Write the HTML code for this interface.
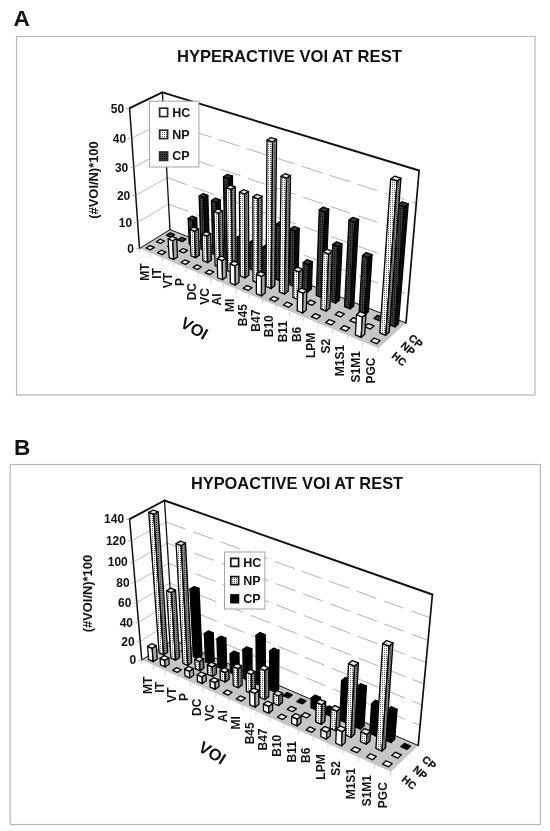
<!DOCTYPE html>
<html><head><meta charset="utf-8"><title>VOI charts</title>
<style>
html,body{margin:0;padding:0;background:#fff;}
body{width:550px;height:831px;overflow:hidden;font-family:"Liberation Sans",sans-serif;}
svg{display:block;}
text{font-family:"Liberation Sans",sans-serif;font-weight:bold;fill:#111;}
.yl{font-size:12px;}
.cl{font-size:12px;}
.ttl{font-size:16.5px;}
.pl{font-size:22.6px;}
.lg{font-size:12.5px;}
.sl{font-size:10.5px;stroke:#111;stroke-width:0.25px;}
.voi{font-size:16.5px;}
.yt{font-size:12.9px;}
</style></head><body>
<svg width="550" height="831" viewBox="0 0 550 831" style="filter:blur(0.6px)">
<defs>
<pattern id="np" width="2" height="2" patternUnits="userSpaceOnUse"><rect width="2" height="2" fill="#fff"/><rect width="1" height="1" fill="#666"/></pattern>
<pattern id="npd" width="2" height="2" patternUnits="userSpaceOnUse"><rect width="2" height="2" fill="#8a8a8a"/><rect width="1" height="1" fill="#3a3a3a"/></pattern>
<pattern id="cpa" width="2" height="2" patternUnits="userSpaceOnUse"><rect width="2" height="2" fill="#3c3c3c"/><rect width="1" height="1" fill="#0a0a0a"/></pattern>
</defs>
<rect width="550" height="831" fill="#fff"/>
<text x="13.6" y="26.4" class="pl">A</text>
<rect x="16.5" y="36.5" width="518.5" height="358.5" fill="#fff" stroke="#b8b8b8" stroke-width="1.2"/>
<text x="289.4" y="62" text-anchor="middle" class="ttl" style="font-size:16.6px">HYPERACTIVE VOI AT REST</text>
<polygon points="139.50,248.50 170.00,229.60 162.40,92.40 129.60,108.20" fill="#fff"/>
<polygon points="170.00,229.60 406.00,323.00 419.10,170.50 162.40,92.40" fill="#fff"/>
<line x1="137.66" y1="222.38" x2="168.59" y2="204.06" stroke="#b4b4b4" stroke-width="0.9"/>
<line x1="168.59" y1="204.06" x2="408.44" y2="294.61" stroke="#aaa" stroke-width="0.9" stroke-dasharray="21 8" stroke-dashoffset="0"/>
<line x1="135.75" y1="195.34" x2="167.12" y2="177.62" stroke="#b4b4b4" stroke-width="0.9"/>
<line x1="167.12" y1="177.62" x2="410.96" y2="265.22" stroke="#aaa" stroke-width="0.9" stroke-dasharray="21 8" stroke-dashoffset="0"/>
<line x1="133.77" y1="167.34" x2="165.60" y2="150.23" stroke="#b4b4b4" stroke-width="0.9"/>
<line x1="165.60" y1="150.23" x2="413.58" y2="234.78" stroke="#aaa" stroke-width="0.9" stroke-dasharray="21 8" stroke-dashoffset="0"/>
<line x1="131.72" y1="138.31" x2="164.03" y2="121.84" stroke="#b4b4b4" stroke-width="0.9"/>
<line x1="164.03" y1="121.84" x2="416.29" y2="203.23" stroke="#aaa" stroke-width="0.9" stroke-dasharray="21 8" stroke-dashoffset="0"/>
<line x1="129.60" y1="108.20" x2="162.40" y2="92.40" stroke="#b4b4b4" stroke-width="0.9"/>
<polygon points="139.50,248.50 378.50,348.30 406.00,323.00 170.00,229.60" fill="#c6c6c6"/>
<line x1="139.50" y1="248.50" x2="170.00" y2="229.60" stroke="#111" stroke-width="1.00" stroke-linecap="round"/>
<line x1="170.00" y1="229.60" x2="406.00" y2="323.00" stroke="#111" stroke-width="1.00" stroke-linecap="round"/>
<line x1="139.50" y1="248.50" x2="129.60" y2="108.20" stroke="#111" stroke-width="1.50" stroke-linecap="round"/>
<line x1="129.60" y1="108.20" x2="162.40" y2="92.40" stroke="#111" stroke-width="1.90" stroke-linecap="round"/>
<line x1="170.00" y1="229.60" x2="162.40" y2="92.40" stroke="#111" stroke-width="1.30" stroke-linecap="round"/>
<line x1="162.40" y1="92.40" x2="419.10" y2="170.50" stroke="#111" stroke-width="1.90" stroke-linecap="round"/>
<line x1="419.10" y1="170.50" x2="406.00" y2="323.00" stroke="#111" stroke-width="1.70" stroke-linecap="round"/>
<line x1="136.00" y1="249.00" x2="139.50" y2="248.50" stroke="#999" stroke-width="0.8"/>
<text x="134.00" y="252.80" text-anchor="end" class="yl">0</text>
<line x1="134.16" y1="222.88" x2="137.66" y2="222.38" stroke="#999" stroke-width="0.8"/>
<text x="132.16" y="226.68" text-anchor="end" class="yl">10</text>
<line x1="132.25" y1="195.84" x2="135.75" y2="195.34" stroke="#999" stroke-width="0.8"/>
<text x="130.25" y="199.64" text-anchor="end" class="yl">20</text>
<line x1="130.27" y1="167.84" x2="133.77" y2="167.34" stroke="#999" stroke-width="0.8"/>
<text x="128.27" y="171.64" text-anchor="end" class="yl">30</text>
<line x1="128.22" y1="138.81" x2="131.72" y2="138.31" stroke="#999" stroke-width="0.8"/>
<text x="126.22" y="142.61" text-anchor="end" class="yl">40</text>
<line x1="126.10" y1="108.70" x2="129.60" y2="108.20" stroke="#999" stroke-width="0.8"/>
<text x="124.10" y="112.50" text-anchor="end" class="yl">50</text>
<line x1="139.50" y1="248.50" x2="139.00" y2="252.50" stroke="#bbb" stroke-width="0.7"/>
<line x1="150.88" y1="253.25" x2="150.38" y2="257.25" stroke="#bbb" stroke-width="0.7"/>
<line x1="162.45" y1="258.09" x2="161.95" y2="262.09" stroke="#bbb" stroke-width="0.7"/>
<line x1="174.23" y1="263.00" x2="173.73" y2="267.00" stroke="#bbb" stroke-width="0.7"/>
<line x1="186.20" y1="268.00" x2="185.70" y2="272.00" stroke="#bbb" stroke-width="0.7"/>
<line x1="198.38" y1="273.09" x2="197.88" y2="277.09" stroke="#bbb" stroke-width="0.7"/>
<line x1="210.78" y1="278.26" x2="210.28" y2="282.26" stroke="#bbb" stroke-width="0.7"/>
<line x1="223.40" y1="283.53" x2="222.90" y2="287.53" stroke="#bbb" stroke-width="0.7"/>
<line x1="236.24" y1="288.90" x2="235.74" y2="292.90" stroke="#bbb" stroke-width="0.7"/>
<line x1="249.31" y1="294.35" x2="248.81" y2="298.35" stroke="#bbb" stroke-width="0.7"/>
<line x1="262.62" y1="299.91" x2="262.12" y2="303.91" stroke="#bbb" stroke-width="0.7"/>
<line x1="276.18" y1="305.57" x2="275.68" y2="309.57" stroke="#bbb" stroke-width="0.7"/>
<line x1="289.98" y1="311.34" x2="289.48" y2="315.34" stroke="#bbb" stroke-width="0.7"/>
<line x1="304.05" y1="317.21" x2="303.55" y2="321.21" stroke="#bbb" stroke-width="0.7"/>
<line x1="318.37" y1="323.19" x2="317.87" y2="327.19" stroke="#bbb" stroke-width="0.7"/>
<line x1="332.98" y1="329.29" x2="332.48" y2="333.29" stroke="#bbb" stroke-width="0.7"/>
<line x1="347.86" y1="335.51" x2="347.36" y2="339.51" stroke="#bbb" stroke-width="0.7"/>
<line x1="363.03" y1="341.84" x2="362.53" y2="345.84" stroke="#bbb" stroke-width="0.7"/>
<line x1="378.50" y1="348.30" x2="378.00" y2="352.30" stroke="#bbb" stroke-width="0.7"/>
<polygon points="166.41,235.34 170.74,237.08 174.65,234.63 170.31,232.91" fill="#3a3a3a" stroke="#000" stroke-width="1.30" stroke-linejoin="round"/>
<polygon points="177.73,239.89 182.15,241.65 186.03,239.16 181.62,237.41" fill="#3a3a3a" stroke="#000" stroke-width="1.30" stroke-linejoin="round"/>
<polygon points="189.26,244.50 193.74,246.30 192.73,220.25 188.17,218.51" fill="url(#cpa)" stroke="#000" stroke-width="1.30" stroke-linejoin="round"/>
<polygon points="193.74,246.30 197.61,243.77 196.65,217.80 192.73,220.25" fill="#0c0c0c" stroke="#000" stroke-width="1.30" stroke-linejoin="round"/>
<polygon points="188.17,218.51 192.73,220.25 196.65,217.80 192.10,216.07" fill="#3a3a3a" stroke="#000" stroke-width="1.30" stroke-linejoin="round"/>
<polygon points="200.98,249.20 205.54,251.03 203.87,197.72 199.15,196.01" fill="url(#cpa)" stroke="#000" stroke-width="1.30" stroke-linejoin="round"/>
<polygon points="205.54,251.03 209.39,248.46 207.83,195.31 203.87,197.72" fill="#0c0c0c" stroke="#000" stroke-width="1.30" stroke-linejoin="round"/>
<polygon points="199.15,196.01 203.87,197.72 207.83,195.31 203.12,193.61" fill="#3a3a3a" stroke="#000" stroke-width="1.30" stroke-linejoin="round"/>
<polygon points="212.90,253.98 217.54,255.84 216.27,202.24 211.47,200.49" fill="url(#cpa)" stroke="#000" stroke-width="1.30" stroke-linejoin="round"/>
<polygon points="217.54,255.84 221.37,253.23 220.21,199.78 216.27,202.24" fill="#0c0c0c" stroke="#000" stroke-width="1.30" stroke-linejoin="round"/>
<polygon points="211.47,200.49 216.27,202.24 220.21,199.78 215.42,198.05" fill="#3a3a3a" stroke="#000" stroke-width="1.30" stroke-linejoin="round"/>
<polygon points="225.03,258.84 229.75,260.74 228.43,178.43 223.46,176.71" fill="url(#cpa)" stroke="#000" stroke-width="1.30" stroke-linejoin="round"/>
<polygon points="229.75,260.74 233.56,258.08 232.41,176.02 228.43,178.43" fill="#0c0c0c" stroke="#000" stroke-width="1.30" stroke-linejoin="round"/>
<polygon points="223.46,176.71 228.43,178.43 232.41,176.02 227.45,174.31" fill="#3a3a3a" stroke="#000" stroke-width="1.30" stroke-linejoin="round"/>
<polygon points="237.37,263.79 242.18,265.72 241.96,239.08 237.07,237.21" fill="url(#cpa)" stroke="#000" stroke-width="1.30" stroke-linejoin="round"/>
<polygon points="242.18,265.72 245.97,263.02 245.80,236.46 241.96,239.08" fill="#0c0c0c" stroke="#000" stroke-width="1.30" stroke-linejoin="round"/>
<polygon points="237.07,237.21 241.96,239.08 245.80,236.46 240.92,234.61" fill="#3a3a3a" stroke="#000" stroke-width="1.30" stroke-linejoin="round"/>
<polygon points="249.93,268.83 254.83,270.79 254.81,244.00 249.84,242.09" fill="url(#cpa)" stroke="#000" stroke-width="1.30" stroke-linejoin="round"/>
<polygon points="254.83,270.79 258.59,268.04 258.63,241.33 254.81,244.00" fill="#0c0c0c" stroke="#000" stroke-width="1.30" stroke-linejoin="round"/>
<polygon points="249.84,242.09 254.81,244.00 258.63,241.33 253.66,239.45" fill="#3a3a3a" stroke="#000" stroke-width="1.30" stroke-linejoin="round"/>
<polygon points="262.72,273.95 267.70,275.95 267.90,249.00 262.83,247.06" fill="url(#cpa)" stroke="#000" stroke-width="1.30" stroke-linejoin="round"/>
<polygon points="267.70,275.95 271.45,273.16 271.69,246.29 267.90,249.00" fill="#0c0c0c" stroke="#000" stroke-width="1.30" stroke-linejoin="round"/>
<polygon points="262.83,247.06 267.90,249.00 271.69,246.29 266.64,244.37" fill="#3a3a3a" stroke="#000" stroke-width="1.30" stroke-linejoin="round"/>
<polygon points="275.74,279.17 280.81,281.20 281.64,226.03 276.39,224.12" fill="url(#cpa)" stroke="#000" stroke-width="1.30" stroke-linejoin="round"/>
<polygon points="280.81,281.20 284.54,278.37 285.47,223.37 281.64,226.03" fill="#0c0c0c" stroke="#000" stroke-width="1.30" stroke-linejoin="round"/>
<polygon points="276.39,224.12 281.64,226.03 285.47,223.37 280.24,221.47" fill="#3a3a3a" stroke="#000" stroke-width="1.30" stroke-linejoin="round"/>
<polygon points="288.99,284.48 294.16,286.55 295.43,231.05 290.09,229.11" fill="url(#cpa)" stroke="#000" stroke-width="1.30" stroke-linejoin="round"/>
<polygon points="294.16,286.55 297.86,283.67 299.24,228.34 295.43,231.05" fill="#0c0c0c" stroke="#000" stroke-width="1.30" stroke-linejoin="round"/>
<polygon points="290.09,229.11 295.43,231.05 299.24,228.34 293.91,226.42" fill="#3a3a3a" stroke="#000" stroke-width="1.30" stroke-linejoin="round"/>
<polygon points="302.49,289.89 307.76,292.00 308.60,264.57 303.25,262.52" fill="url(#cpa)" stroke="#000" stroke-width="1.30" stroke-linejoin="round"/>
<polygon points="307.76,292.00 311.44,289.08 312.33,261.72 308.60,264.57" fill="#0c0c0c" stroke="#000" stroke-width="1.30" stroke-linejoin="round"/>
<polygon points="303.25,262.52 308.60,264.57 312.33,261.72 306.99,259.70" fill="#3a3a3a" stroke="#000" stroke-width="1.30" stroke-linejoin="round"/>
<polygon points="316.24,295.41 321.61,297.56 324.93,211.77 319.29,209.83" fill="url(#cpa)" stroke="#000" stroke-width="1.30" stroke-linejoin="round"/>
<polygon points="321.61,297.56 325.26,294.58 328.76,209.06 324.93,211.77" fill="#0c0c0c" stroke="#000" stroke-width="1.30" stroke-linejoin="round"/>
<polygon points="319.29,209.83 324.93,211.77 328.76,209.06 323.13,207.13" fill="#3a3a3a" stroke="#000" stroke-width="1.30" stroke-linejoin="round"/>
<polygon points="330.25,301.02 335.71,303.21 338.36,246.68 332.71,244.62" fill="url(#cpa)" stroke="#000" stroke-width="1.30" stroke-linejoin="round"/>
<polygon points="335.71,303.21 339.35,300.19 342.10,243.83 338.36,246.68" fill="#0c0c0c" stroke="#000" stroke-width="1.30" stroke-linejoin="round"/>
<polygon points="332.71,244.62 338.36,246.68 342.10,243.83 336.47,241.79" fill="#3a3a3a" stroke="#000" stroke-width="1.30" stroke-linejoin="round"/>
<polygon points="344.52,306.74 350.09,308.97 354.86,222.11 349.01,220.09" fill="url(#cpa)" stroke="#000" stroke-width="1.30" stroke-linejoin="round"/>
<polygon points="350.09,308.97 353.70,305.90 358.64,219.31 354.86,222.11" fill="#0c0c0c" stroke="#000" stroke-width="1.30" stroke-linejoin="round"/>
<polygon points="349.01,220.09 354.86,222.11 358.64,219.31 352.80,217.31" fill="#3a3a3a" stroke="#000" stroke-width="1.30" stroke-linejoin="round"/>
<polygon points="359.07,312.57 364.74,314.85 368.35,257.60 362.49,255.46" fill="url(#cpa)" stroke="#000" stroke-width="1.30" stroke-linejoin="round"/>
<polygon points="364.74,314.85 368.33,311.72 372.05,254.65 368.35,257.60" fill="#0c0c0c" stroke="#000" stroke-width="1.30" stroke-linejoin="round"/>
<polygon points="362.49,255.46 368.35,257.60 372.05,254.65 366.19,252.54" fill="#3a3a3a" stroke="#000" stroke-width="1.30" stroke-linejoin="round"/>
<polygon points="373.90,318.52 379.68,320.83 383.24,317.66 377.47,315.36" fill="#3a3a3a" stroke="#000" stroke-width="1.30" stroke-linejoin="round"/>
<polygon points="389.01,324.57 394.91,326.94 404.46,206.71 398.15,204.65" fill="url(#cpa)" stroke="#000" stroke-width="1.30" stroke-linejoin="round"/>
<polygon points="394.91,326.94 398.45,323.71 408.22,203.87 404.46,206.71" fill="#0c0c0c" stroke="#000" stroke-width="1.30" stroke-linejoin="round"/>
<polygon points="398.15,204.65 404.46,206.71 408.22,203.87 401.93,201.82" fill="#3a3a3a" stroke="#000" stroke-width="1.30" stroke-linejoin="round"/>
<polygon points="156.25,241.68 160.61,243.45 164.51,241.00 160.16,239.24" fill="#e4e4e4" stroke="#000" stroke-width="1.30" stroke-linejoin="round"/>
<polygon points="167.63,246.32 172.06,248.13 175.94,245.64 171.52,243.84" fill="#e4e4e4" stroke="#000" stroke-width="1.30" stroke-linejoin="round"/>
<polygon points="179.20,251.04 183.71,252.88 187.57,250.35 183.07,248.52" fill="#e4e4e4" stroke="#000" stroke-width="1.30" stroke-linejoin="round"/>
<polygon points="190.97,255.84 195.55,257.72 194.59,231.32 189.93,229.51" fill="url(#np)" stroke="#000" stroke-width="1.30" stroke-linejoin="round"/>
<polygon points="195.55,257.72 199.40,255.14 198.49,228.83 194.59,231.32" fill="url(#npd)" stroke="#000" stroke-width="1.30" stroke-linejoin="round"/>
<polygon points="189.93,229.51 194.59,231.32 198.49,228.83 193.84,227.03" fill="#e4e4e4" stroke="#000" stroke-width="1.30" stroke-linejoin="round"/>
<polygon points="202.94,260.73 207.61,262.63 206.84,236.09 202.10,234.25" fill="url(#np)" stroke="#000" stroke-width="1.30" stroke-linejoin="round"/>
<polygon points="207.61,262.63 211.43,260.02 210.72,233.56 206.84,236.09" fill="url(#npd)" stroke="#000" stroke-width="1.30" stroke-linejoin="round"/>
<polygon points="202.10,234.25 206.84,236.09 210.72,233.56 205.99,231.72" fill="#e4e4e4" stroke="#000" stroke-width="1.30" stroke-linejoin="round"/>
<polygon points="215.12,265.70 219.87,267.64 218.71,213.31 213.81,211.50" fill="url(#np)" stroke="#000" stroke-width="1.30" stroke-linejoin="round"/>
<polygon points="219.87,267.64 223.68,264.98 222.63,210.82 218.71,213.31" fill="url(#npd)" stroke="#000" stroke-width="1.30" stroke-linejoin="round"/>
<polygon points="213.81,211.50 218.71,213.31 222.63,210.82 217.73,209.01" fill="#e4e4e4" stroke="#000" stroke-width="1.30" stroke-linejoin="round"/>
<polygon points="227.52,270.76 232.35,272.73 231.21,189.31 226.14,187.52" fill="url(#np)" stroke="#000" stroke-width="1.30" stroke-linejoin="round"/>
<polygon points="232.35,272.73 236.13,270.03 235.17,186.85 231.21,189.31" fill="url(#npd)" stroke="#000" stroke-width="1.30" stroke-linejoin="round"/>
<polygon points="226.14,187.52 231.21,189.31 235.17,186.85 230.10,185.08" fill="#e4e4e4" stroke="#000" stroke-width="1.30" stroke-linejoin="round"/>
<polygon points="240.13,275.91 245.05,277.92 244.55,194.00 239.39,192.19" fill="url(#np)" stroke="#000" stroke-width="1.30" stroke-linejoin="round"/>
<polygon points="245.05,277.92 248.82,275.17 248.49,191.51 244.55,194.00" fill="url(#npd)" stroke="#000" stroke-width="1.30" stroke-linejoin="round"/>
<polygon points="239.39,192.19 244.55,194.00 248.49,191.51 243.33,189.71" fill="#e4e4e4" stroke="#000" stroke-width="1.30" stroke-linejoin="round"/>
<polygon points="252.97,281.15 257.98,283.19 258.13,198.79 252.87,196.94" fill="url(#np)" stroke="#000" stroke-width="1.30" stroke-linejoin="round"/>
<polygon points="257.98,283.19 261.72,280.40 262.05,196.25 258.13,198.79" fill="url(#npd)" stroke="#000" stroke-width="1.30" stroke-linejoin="round"/>
<polygon points="252.87,196.94 258.13,198.79 262.05,196.25 256.80,194.42" fill="#e4e4e4" stroke="#000" stroke-width="1.30" stroke-linejoin="round"/>
<polygon points="266.05,286.49 271.14,288.57 272.55,141.79 267.01,140.05" fill="url(#np)" stroke="#000" stroke-width="1.30" stroke-linejoin="round"/>
<polygon points="271.14,288.57 274.87,285.73 276.57,139.40 272.55,141.79" fill="url(#npd)" stroke="#000" stroke-width="1.30" stroke-linejoin="round"/>
<polygon points="267.01,140.05 272.55,141.79 276.57,139.40 271.04,137.67" fill="#e4e4e4" stroke="#000" stroke-width="1.30" stroke-linejoin="round"/>
<polygon points="279.36,291.92 284.55,294.04 286.57,178.06 281.03,176.21" fill="url(#np)" stroke="#000" stroke-width="1.30" stroke-linejoin="round"/>
<polygon points="284.55,294.04 288.25,291.16 290.51,175.54 286.57,178.06" fill="url(#npd)" stroke="#000" stroke-width="1.30" stroke-linejoin="round"/>
<polygon points="281.03,176.21 286.57,178.06 290.51,175.54 284.97,173.70" fill="#e4e4e4" stroke="#000" stroke-width="1.30" stroke-linejoin="round"/>
<polygon points="292.92,297.45 298.20,299.61 298.90,271.95 293.53,269.86" fill="url(#np)" stroke="#000" stroke-width="1.30" stroke-linejoin="round"/>
<polygon points="298.20,299.61 301.88,296.68 302.64,269.11 298.90,271.95" fill="url(#npd)" stroke="#000" stroke-width="1.30" stroke-linejoin="round"/>
<polygon points="293.53,269.86 298.90,271.95 302.64,269.11 297.27,267.03" fill="#e4e4e4" stroke="#000" stroke-width="1.30" stroke-linejoin="round"/>
<polygon points="306.72,303.09 312.11,305.29 315.77,302.31 310.39,300.13" fill="#e4e4e4" stroke="#000" stroke-width="1.30" stroke-linejoin="round"/>
<polygon points="320.79,308.83 326.28,311.07 328.63,254.08 322.96,251.97" fill="url(#np)" stroke="#000" stroke-width="1.30" stroke-linejoin="round"/>
<polygon points="326.28,311.07 329.91,308.04 332.38,251.23 328.63,254.08" fill="url(#npd)" stroke="#000" stroke-width="1.30" stroke-linejoin="round"/>
<polygon points="322.96,251.97 328.63,254.08 332.38,251.23 326.72,249.14" fill="#e4e4e4" stroke="#000" stroke-width="1.30" stroke-linejoin="round"/>
<polygon points="335.12,314.68 340.72,316.96 344.33,313.89 338.74,311.62" fill="#e4e4e4" stroke="#000" stroke-width="1.30" stroke-linejoin="round"/>
<polygon points="349.73,320.64 355.43,322.97 359.02,319.84 353.33,317.53" fill="#e4e4e4" stroke="#000" stroke-width="1.30" stroke-linejoin="round"/>
<polygon points="364.62,326.72 370.43,329.09 373.99,325.91 368.19,323.56" fill="#e4e4e4" stroke="#000" stroke-width="1.30" stroke-linejoin="round"/>
<polygon points="379.80,332.91 385.72,335.33 397.11,180.98 390.67,178.95" fill="url(#np)" stroke="#000" stroke-width="1.30" stroke-linejoin="round"/>
<polygon points="385.72,335.33 389.26,332.10 400.94,178.24 397.11,180.98" fill="url(#npd)" stroke="#000" stroke-width="1.30" stroke-linejoin="round"/>
<polygon points="390.67,178.95 397.11,180.98 400.94,178.24 394.51,176.23" fill="#e4e4e4" stroke="#000" stroke-width="1.30" stroke-linejoin="round"/>
<polygon points="146.10,248.01 150.48,249.82 154.38,247.37 150.01,245.57" fill="#f4f4f4" stroke="#000" stroke-width="1.30" stroke-linejoin="round"/>
<polygon points="157.53,252.75 161.98,254.60 165.86,252.11 161.42,250.27" fill="#f4f4f4" stroke="#000" stroke-width="1.30" stroke-linejoin="round"/>
<polygon points="169.15,257.58 173.67,259.46 172.75,240.77 168.18,238.93" fill="#fff" stroke="#000" stroke-width="1.30" stroke-linejoin="round"/>
<polygon points="173.67,259.46 177.54,256.93 176.66,238.30 172.75,240.77" fill="#a8a8a8" stroke="#000" stroke-width="1.30" stroke-linejoin="round"/>
<polygon points="168.18,238.93 172.75,240.77 176.66,238.30 172.09,236.47" fill="#f4f4f4" stroke="#000" stroke-width="1.30" stroke-linejoin="round"/>
<polygon points="180.96,262.49 185.57,264.40 189.41,261.83 184.82,259.93" fill="#f4f4f4" stroke="#000" stroke-width="1.30" stroke-linejoin="round"/>
<polygon points="192.99,267.48 197.67,269.43 201.50,266.81 196.82,264.88" fill="#f4f4f4" stroke="#000" stroke-width="1.30" stroke-linejoin="round"/>
<polygon points="205.22,272.56 209.99,274.54 213.79,271.88 209.03,269.92" fill="#f4f4f4" stroke="#000" stroke-width="1.30" stroke-linejoin="round"/>
<polygon points="217.67,277.73 222.52,279.75 222.16,260.63 217.25,258.66" fill="#fff" stroke="#000" stroke-width="1.30" stroke-linejoin="round"/>
<polygon points="222.52,279.75 226.30,277.05 225.98,257.99 222.16,260.63" fill="#a8a8a8" stroke="#000" stroke-width="1.30" stroke-linejoin="round"/>
<polygon points="217.25,258.66 222.16,260.63 225.98,257.99 221.08,256.03" fill="#f4f4f4" stroke="#000" stroke-width="1.30" stroke-linejoin="round"/>
<polygon points="230.33,282.99 235.27,285.04 235.06,265.82 230.06,263.81" fill="#fff" stroke="#000" stroke-width="1.30" stroke-linejoin="round"/>
<polygon points="235.27,285.04 239.04,282.30 238.86,263.13 235.06,265.82" fill="#a8a8a8" stroke="#000" stroke-width="1.30" stroke-linejoin="round"/>
<polygon points="230.06,263.81 235.06,265.82 238.86,263.13 233.88,261.14" fill="#f4f4f4" stroke="#000" stroke-width="1.30" stroke-linejoin="round"/>
<polygon points="243.23,288.35 248.26,290.44 252.00,287.65 246.98,285.58" fill="#f4f4f4" stroke="#000" stroke-width="1.30" stroke-linejoin="round"/>
<polygon points="256.36,293.80 261.48,295.93 261.56,276.47 256.38,274.39" fill="#fff" stroke="#000" stroke-width="1.30" stroke-linejoin="round"/>
<polygon points="261.48,295.93 265.20,293.09 265.32,273.70 261.56,276.47" fill="#a8a8a8" stroke="#000" stroke-width="1.30" stroke-linejoin="round"/>
<polygon points="256.38,274.39 261.56,276.47 265.32,273.70 260.15,271.63" fill="#f4f4f4" stroke="#000" stroke-width="1.30" stroke-linejoin="round"/>
<polygon points="269.73,299.36 274.94,301.52 278.64,298.64 273.43,296.49" fill="#f4f4f4" stroke="#000" stroke-width="1.30" stroke-linejoin="round"/>
<polygon points="283.34,305.01 288.65,307.21 292.33,304.29 287.03,302.10" fill="#f4f4f4" stroke="#000" stroke-width="1.30" stroke-linejoin="round"/>
<polygon points="297.21,310.77 302.61,313.02 303.17,293.20 297.70,291.00" fill="#fff" stroke="#000" stroke-width="1.30" stroke-linejoin="round"/>
<polygon points="302.61,313.02 306.27,310.04 306.86,290.28 303.17,293.20" fill="#a8a8a8" stroke="#000" stroke-width="1.30" stroke-linejoin="round"/>
<polygon points="297.70,291.00 303.17,293.20 306.86,290.28 301.40,288.10" fill="#f4f4f4" stroke="#000" stroke-width="1.30" stroke-linejoin="round"/>
<polygon points="311.33,316.64 316.84,318.93 320.47,315.90 314.97,313.63" fill="#f4f4f4" stroke="#000" stroke-width="1.30" stroke-linejoin="round"/>
<polygon points="325.73,322.62 331.34,324.95 334.95,321.87 329.34,319.56" fill="#f4f4f4" stroke="#000" stroke-width="1.30" stroke-linejoin="round"/>
<polygon points="340.39,328.71 346.12,331.08 349.70,327.96 343.99,325.60" fill="#f4f4f4" stroke="#000" stroke-width="1.30" stroke-linejoin="round"/>
<polygon points="355.35,334.92 361.18,337.34 362.40,317.01 356.50,314.64" fill="#fff" stroke="#000" stroke-width="1.30" stroke-linejoin="round"/>
<polygon points="361.18,337.34 364.74,334.16 366.00,313.90 362.40,317.01" fill="#a8a8a8" stroke="#000" stroke-width="1.30" stroke-linejoin="round"/>
<polygon points="356.50,314.64 362.40,317.01 366.00,313.90 360.11,311.54" fill="#f4f4f4" stroke="#000" stroke-width="1.30" stroke-linejoin="round"/>
<polygon points="370.59,341.25 376.54,343.72 380.07,340.49 374.13,338.04" fill="#f4f4f4" stroke="#000" stroke-width="1.30" stroke-linejoin="round"/>
<text transform="translate(145.17 263.37) rotate(-90)" text-anchor="end" class="cl" dy="4.1">MT</text>
<text transform="translate(156.64 268.16) rotate(-90)" text-anchor="end" class="cl" dy="4.1">IT</text>
<text transform="translate(168.32 273.03) rotate(-90)" text-anchor="end" class="cl" dy="4.1">VT</text>
<text transform="translate(180.19 277.99) rotate(-90)" text-anchor="end" class="cl" dy="4.1">P</text>
<text transform="translate(192.27 283.03) rotate(-90)" text-anchor="end" class="cl" dy="4.1">DC</text>
<text transform="translate(204.56 288.17) rotate(-90)" text-anchor="end" class="cl" dy="4.1">VC</text>
<text transform="translate(217.06 293.39) rotate(-90)" text-anchor="end" class="cl" dy="4.1">AI</text>
<text transform="translate(229.79 298.70) rotate(-90)" text-anchor="end" class="cl" dy="4.1">MI</text>
<text transform="translate(242.75 304.11) rotate(-90)" text-anchor="end" class="cl" dy="4.1">B45</text>
<text transform="translate(255.94 309.62) rotate(-90)" text-anchor="end" class="cl" dy="4.1">B47</text>
<text transform="translate(269.37 315.23) rotate(-90)" text-anchor="end" class="cl" dy="4.1">B10</text>
<text transform="translate(283.05 320.94) rotate(-90)" text-anchor="end" class="cl" dy="4.1">B11</text>
<text transform="translate(296.98 326.76) rotate(-90)" text-anchor="end" class="cl" dy="4.1">B6</text>
<text transform="translate(311.18 332.69) rotate(-90)" text-anchor="end" class="cl" dy="4.1">LPM</text>
<text transform="translate(325.64 338.73) rotate(-90)" text-anchor="end" class="cl" dy="4.1">S2</text>
<text transform="translate(340.38 344.88) rotate(-90)" text-anchor="end" class="cl" dy="4.1">M1S1</text>
<text transform="translate(355.41 351.16) rotate(-90)" text-anchor="end" class="cl" dy="4.1">S1M1</text>
<text transform="translate(370.73 357.55) rotate(-90)" text-anchor="end" class="cl" dy="4.1">PGC</text>
<!-- legend A -->
<rect x="149.5" y="101.2" width="49.4" height="65.8" fill="#fff" stroke="#999" stroke-width="0.9"/>
<rect x="159.6" y="108.2" width="8" height="8.4" fill="#fff" stroke="#2a2a2a" stroke-width="1.7"/>
<text x="172.3" y="116.9" class="lg">HC</text>
<rect x="159.6" y="130.2" width="8" height="8.4" fill="url(#np)" stroke="#2a2a2a" stroke-width="1.7"/>
<text x="172.3" y="138.7" class="lg">NP</text>
<rect x="159.6" y="152" width="8" height="8.4" fill="url(#cpa)" stroke="#2a2a2a" stroke-width="1.7"/>
<text x="172.3" y="160.4" class="lg">CP</text>
<text transform="translate(98 180) rotate(-90)" text-anchor="middle" class="yt">(#VOI/N)*100</text>
<text transform="translate(194.2 328.5) rotate(30)" text-anchor="middle" class="voi" dy="5.5">VOI</text>
<text transform="translate(399 359.3) rotate(41)" text-anchor="middle" class="sl" dy="3.3">HC</text>
<text transform="translate(407.7 348.9) rotate(41)" text-anchor="middle" class="sl" dy="3.3">NP</text>
<text transform="translate(415.4 341.3) rotate(41)" text-anchor="middle" class="sl" dy="3.3">CP</text>

<text x="14.0" y="454.8" class="pl">B</text>
<rect x="10.2" y="464.5" width="530.2" height="360" fill="#fff" stroke="#b8b8b8" stroke-width="1.2"/>
<text x="297" y="488.7" text-anchor="middle" class="ttl" style="font-size:16.4px">HYPOACTIVE VOI AT REST</text>
<polygon points="141.80,660.00 173.30,640.00 164.50,500.50 129.60,519.10" fill="#fff"/>
<polygon points="173.30,640.00 418.20,745.50 432.40,594.50 164.50,500.50" fill="#fff"/>
<line x1="140.19" y1="641.36" x2="172.14" y2="621.54" stroke="#b4b4b4" stroke-width="0.9"/>
<line x1="172.14" y1="621.54" x2="420.08" y2="725.52" stroke="#aaa" stroke-width="0.9" stroke-dasharray="21 8" stroke-dashoffset="0"/>
<line x1="138.53" y1="622.25" x2="170.94" y2="602.62" stroke="#b4b4b4" stroke-width="0.9"/>
<line x1="170.94" y1="602.62" x2="422.00" y2="705.04" stroke="#aaa" stroke-width="0.9" stroke-dasharray="21 8" stroke-dashoffset="0"/>
<line x1="136.83" y1="602.66" x2="169.72" y2="583.23" stroke="#b4b4b4" stroke-width="0.9"/>
<line x1="169.72" y1="583.23" x2="423.98" y2="684.05" stroke="#aaa" stroke-width="0.9" stroke-dasharray="21 8" stroke-dashoffset="0"/>
<line x1="135.10" y1="582.57" x2="168.46" y2="563.34" stroke="#b4b4b4" stroke-width="0.9"/>
<line x1="168.46" y1="563.34" x2="426.00" y2="662.52" stroke="#aaa" stroke-width="0.9" stroke-dasharray="21 8" stroke-dashoffset="0"/>
<line x1="133.31" y1="561.96" x2="167.18" y2="542.93" stroke="#b4b4b4" stroke-width="0.9"/>
<line x1="167.18" y1="542.93" x2="428.08" y2="640.43" stroke="#aaa" stroke-width="0.9" stroke-dasharray="21 8" stroke-dashoffset="0"/>
<line x1="131.48" y1="540.81" x2="165.86" y2="521.99" stroke="#b4b4b4" stroke-width="0.9"/>
<line x1="165.86" y1="521.99" x2="430.21" y2="617.77" stroke="#aaa" stroke-width="0.9" stroke-dasharray="21 8" stroke-dashoffset="0"/>
<line x1="129.60" y1="519.10" x2="164.50" y2="500.50" stroke="#b4b4b4" stroke-width="0.9"/>
<polygon points="141.80,660.00 390.90,771.80 418.20,745.50 173.30,640.00" fill="#c6c6c6"/>
<line x1="141.80" y1="660.00" x2="173.30" y2="640.00" stroke="#111" stroke-width="1.00" stroke-linecap="round"/>
<line x1="173.30" y1="640.00" x2="418.20" y2="745.50" stroke="#111" stroke-width="1.00" stroke-linecap="round"/>
<line x1="141.80" y1="660.00" x2="129.60" y2="519.10" stroke="#111" stroke-width="1.50" stroke-linecap="round"/>
<line x1="129.60" y1="519.10" x2="164.50" y2="500.50" stroke="#111" stroke-width="1.90" stroke-linecap="round"/>
<line x1="173.30" y1="640.00" x2="164.50" y2="500.50" stroke="#111" stroke-width="1.30" stroke-linecap="round"/>
<line x1="164.50" y1="500.50" x2="432.40" y2="594.50" stroke="#111" stroke-width="1.90" stroke-linecap="round"/>
<line x1="432.40" y1="594.50" x2="418.20" y2="745.50" stroke="#111" stroke-width="1.70" stroke-linecap="round"/>
<line x1="138.30" y1="660.50" x2="141.80" y2="660.00" stroke="#999" stroke-width="0.8"/>
<text x="136.30" y="664.30" text-anchor="end" class="yl">0</text>
<line x1="136.69" y1="641.86" x2="140.19" y2="641.36" stroke="#999" stroke-width="0.8"/>
<text x="134.69" y="645.66" text-anchor="end" class="yl">20</text>
<line x1="135.03" y1="622.75" x2="138.53" y2="622.25" stroke="#999" stroke-width="0.8"/>
<text x="133.03" y="626.55" text-anchor="end" class="yl">40</text>
<line x1="133.33" y1="603.16" x2="136.83" y2="602.66" stroke="#999" stroke-width="0.8"/>
<text x="131.33" y="606.96" text-anchor="end" class="yl">60</text>
<line x1="131.60" y1="583.07" x2="135.10" y2="582.57" stroke="#999" stroke-width="0.8"/>
<text x="129.60" y="586.87" text-anchor="end" class="yl">80</text>
<line x1="129.81" y1="562.46" x2="133.31" y2="561.96" stroke="#999" stroke-width="0.8"/>
<text x="127.81" y="566.26" text-anchor="end" class="yl">100</text>
<line x1="127.98" y1="541.31" x2="131.48" y2="540.81" stroke="#999" stroke-width="0.8"/>
<text x="125.98" y="545.11" text-anchor="end" class="yl">120</text>
<line x1="126.10" y1="519.60" x2="129.60" y2="519.10" stroke="#999" stroke-width="0.8"/>
<text x="124.10" y="523.40" text-anchor="end" class="yl">140</text>
<line x1="141.80" y1="660.00" x2="141.30" y2="664.00" stroke="#bbb" stroke-width="0.7"/>
<line x1="153.66" y1="665.32" x2="153.16" y2="669.32" stroke="#bbb" stroke-width="0.7"/>
<line x1="165.72" y1="670.74" x2="165.22" y2="674.74" stroke="#bbb" stroke-width="0.7"/>
<line x1="177.99" y1="676.24" x2="177.49" y2="680.24" stroke="#bbb" stroke-width="0.7"/>
<line x1="190.47" y1="681.85" x2="189.97" y2="685.85" stroke="#bbb" stroke-width="0.7"/>
<line x1="203.17" y1="687.54" x2="202.67" y2="691.54" stroke="#bbb" stroke-width="0.7"/>
<line x1="216.09" y1="693.34" x2="215.59" y2="697.34" stroke="#bbb" stroke-width="0.7"/>
<line x1="229.24" y1="699.25" x2="228.74" y2="703.25" stroke="#bbb" stroke-width="0.7"/>
<line x1="242.63" y1="705.25" x2="242.13" y2="709.25" stroke="#bbb" stroke-width="0.7"/>
<line x1="256.25" y1="711.37" x2="255.75" y2="715.37" stroke="#bbb" stroke-width="0.7"/>
<line x1="270.12" y1="717.59" x2="269.62" y2="721.59" stroke="#bbb" stroke-width="0.7"/>
<line x1="284.25" y1="723.93" x2="283.75" y2="727.93" stroke="#bbb" stroke-width="0.7"/>
<line x1="298.64" y1="730.39" x2="298.14" y2="734.39" stroke="#bbb" stroke-width="0.7"/>
<line x1="313.30" y1="736.97" x2="312.80" y2="740.97" stroke="#bbb" stroke-width="0.7"/>
<line x1="328.23" y1="743.67" x2="327.73" y2="747.67" stroke="#bbb" stroke-width="0.7"/>
<line x1="343.45" y1="750.50" x2="342.95" y2="754.50" stroke="#bbb" stroke-width="0.7"/>
<line x1="358.96" y1="757.47" x2="358.46" y2="761.47" stroke="#bbb" stroke-width="0.7"/>
<line x1="374.78" y1="764.56" x2="374.28" y2="768.56" stroke="#bbb" stroke-width="0.7"/>
<line x1="390.90" y1="771.80" x2="390.40" y2="775.80" stroke="#bbb" stroke-width="0.7"/>
<polygon points="169.61,646.17 174.12,648.13 178.14,645.54 173.64,643.60" fill="#000" stroke="#000" stroke-width="1.30" stroke-linejoin="round"/>
<polygon points="181.38,651.29 185.96,653.29 189.96,650.65 185.39,648.68" fill="#000" stroke="#000" stroke-width="1.30" stroke-linejoin="round"/>
<polygon points="193.35,656.50 198.01,658.53 194.86,591.00 189.99,589.08" fill="#000" stroke="#000" stroke-width="1.30" stroke-linejoin="round"/>
<polygon points="198.01,658.53 201.98,655.86 199.04,588.42 194.86,591.00" fill="#000" stroke="#000" stroke-width="1.30" stroke-linejoin="round"/>
<polygon points="189.99,589.08 194.86,591.00 199.04,588.42 194.18,586.51" fill="#000" stroke="#000" stroke-width="1.30" stroke-linejoin="round"/>
<polygon points="205.52,661.80 210.26,663.86 209.17,635.52 204.34,633.50" fill="#000" stroke="#000" stroke-width="1.30" stroke-linejoin="round"/>
<polygon points="210.26,663.86 214.21,661.15 213.21,632.84 209.17,635.52" fill="#000" stroke="#000" stroke-width="1.30" stroke-linejoin="round"/>
<polygon points="204.34,633.50 209.17,635.52 213.21,632.84 208.39,630.84" fill="#000" stroke="#000" stroke-width="1.30" stroke-linejoin="round"/>
<polygon points="217.90,667.18 222.73,669.28 221.87,640.83 216.96,638.77" fill="#000" stroke="#000" stroke-width="1.30" stroke-linejoin="round"/>
<polygon points="222.73,669.28 226.65,666.53 225.88,638.11 221.87,640.83" fill="#000" stroke="#000" stroke-width="1.30" stroke-linejoin="round"/>
<polygon points="216.96,638.77 221.87,640.83 225.88,638.11 220.97,636.07" fill="#000" stroke="#000" stroke-width="1.30" stroke-linejoin="round"/>
<polygon points="230.50,672.66 235.41,674.80 235.00,655.87 230.03,653.76" fill="#000" stroke="#000" stroke-width="1.30" stroke-linejoin="round"/>
<polygon points="235.41,674.80 239.30,672.00 238.95,653.10 235.00,655.87" fill="#000" stroke="#000" stroke-width="1.30" stroke-linejoin="round"/>
<polygon points="230.03,653.76 235.00,655.87 238.95,653.10 233.99,651.01" fill="#000" stroke="#000" stroke-width="1.30" stroke-linejoin="round"/>
<polygon points="243.32,678.24 248.32,680.41 247.94,651.72 242.85,649.59" fill="#000" stroke="#000" stroke-width="1.30" stroke-linejoin="round"/>
<polygon points="248.32,680.41 252.18,677.58 251.89,648.92 247.94,651.72" fill="#000" stroke="#000" stroke-width="1.30" stroke-linejoin="round"/>
<polygon points="242.85,649.59 247.94,651.72 251.89,648.92 246.81,646.81" fill="#000" stroke="#000" stroke-width="1.30" stroke-linejoin="round"/>
<polygon points="256.37,683.92 261.46,686.13 261.24,637.50 255.99,635.36" fill="#000" stroke="#000" stroke-width="1.30" stroke-linejoin="round"/>
<polygon points="261.46,686.13 265.29,683.25 265.22,634.68 261.24,637.50" fill="#000" stroke="#000" stroke-width="1.30" stroke-linejoin="round"/>
<polygon points="255.99,635.36 261.24,637.50 265.22,634.68 259.98,632.56" fill="#000" stroke="#000" stroke-width="1.30" stroke-linejoin="round"/>
<polygon points="269.66,689.70 274.83,691.95 274.99,653.11 269.69,650.93" fill="#000" stroke="#000" stroke-width="1.30" stroke-linejoin="round"/>
<polygon points="274.83,691.95 278.64,689.02 278.91,650.24 274.99,653.11" fill="#000" stroke="#000" stroke-width="1.30" stroke-linejoin="round"/>
<polygon points="269.69,650.93 274.99,653.11 278.91,650.24 273.62,648.07" fill="#000" stroke="#000" stroke-width="1.30" stroke-linejoin="round"/>
<polygon points="283.18,695.58 288.45,697.87 292.23,694.90 286.97,692.63" fill="#000" stroke="#000" stroke-width="1.30" stroke-linejoin="round"/>
<polygon points="296.95,701.57 302.32,703.90 306.06,700.89 300.71,698.57" fill="#000" stroke="#000" stroke-width="1.30" stroke-linejoin="round"/>
<polygon points="310.97,707.67 316.44,710.05 316.74,700.39 311.23,698.03" fill="#000" stroke="#000" stroke-width="1.30" stroke-linejoin="round"/>
<polygon points="316.44,710.05 320.15,706.99 320.48,697.34 316.74,700.39" fill="#000" stroke="#000" stroke-width="1.30" stroke-linejoin="round"/>
<polygon points="311.23,698.03 316.74,700.39 320.48,697.34 314.99,695.00" fill="#000" stroke="#000" stroke-width="1.30" stroke-linejoin="round"/>
<polygon points="325.26,713.88 330.83,716.30 331.02,711.47 325.43,709.05" fill="#000" stroke="#000" stroke-width="1.30" stroke-linejoin="round"/>
<polygon points="330.83,716.30 334.51,713.20 334.71,708.37 331.02,711.47" fill="#000" stroke="#000" stroke-width="1.30" stroke-linejoin="round"/>
<polygon points="325.43,709.05 331.02,711.47 334.71,708.37 329.14,705.97" fill="#000" stroke="#000" stroke-width="1.30" stroke-linejoin="round"/>
<polygon points="339.81,720.21 345.48,722.68 347.41,682.96 341.59,680.56" fill="#000" stroke="#000" stroke-width="1.30" stroke-linejoin="round"/>
<polygon points="345.48,722.68 349.13,719.52 351.18,679.85 347.41,682.96" fill="#000" stroke="#000" stroke-width="1.30" stroke-linejoin="round"/>
<polygon points="341.59,680.56 347.41,682.96 351.18,679.85 345.37,677.47" fill="#000" stroke="#000" stroke-width="1.30" stroke-linejoin="round"/>
<polygon points="354.63,726.66 360.42,729.18 362.72,689.26 356.79,686.82" fill="#000" stroke="#000" stroke-width="1.30" stroke-linejoin="round"/>
<polygon points="360.42,729.18 364.03,725.97 366.45,686.11 362.72,689.26" fill="#000" stroke="#000" stroke-width="1.30" stroke-linejoin="round"/>
<polygon points="356.79,686.82 362.72,689.26 366.45,686.11 360.54,683.69" fill="#000" stroke="#000" stroke-width="1.30" stroke-linejoin="round"/>
<polygon points="369.74,733.23 375.64,735.80 377.64,705.91 371.63,703.40" fill="#000" stroke="#000" stroke-width="1.30" stroke-linejoin="round"/>
<polygon points="375.64,735.80 379.22,732.54 381.31,702.69 377.64,705.91" fill="#000" stroke="#000" stroke-width="1.30" stroke-linejoin="round"/>
<polygon points="371.63,703.40 377.64,705.91 381.31,702.69 375.32,700.20" fill="#000" stroke="#000" stroke-width="1.30" stroke-linejoin="round"/>
<polygon points="385.14,739.93 391.15,742.55 393.44,712.51 387.32,709.95" fill="#000" stroke="#000" stroke-width="1.30" stroke-linejoin="round"/>
<polygon points="391.15,742.55 394.70,739.24 397.08,709.24 393.44,712.51" fill="#000" stroke="#000" stroke-width="1.30" stroke-linejoin="round"/>
<polygon points="387.32,709.95 393.44,712.51 397.08,709.24 390.97,706.71" fill="#000" stroke="#000" stroke-width="1.30" stroke-linejoin="round"/>
<polygon points="400.84,746.76 406.97,749.43 410.49,746.07 404.37,743.42" fill="#000" stroke="#000" stroke-width="1.30" stroke-linejoin="round"/>
<polygon points="159.13,652.87 163.66,654.87 153.70,514.20 148.75,512.41" fill="url(#np)" stroke="#000" stroke-width="1.30" stroke-linejoin="round"/>
<polygon points="163.66,654.87 167.69,652.28 158.16,511.79 153.70,514.20" fill="url(#npd)" stroke="#000" stroke-width="1.30" stroke-linejoin="round"/>
<polygon points="148.75,512.41 153.70,514.20 158.16,511.79 153.22,510.01" fill="#e4e4e4" stroke="#000" stroke-width="1.30" stroke-linejoin="round"/>
<polygon points="170.96,658.09 175.57,660.12 171.34,592.64 166.53,590.71" fill="url(#np)" stroke="#000" stroke-width="1.30" stroke-linejoin="round"/>
<polygon points="175.57,660.12 179.57,657.49 175.55,590.10 171.34,592.64" fill="url(#npd)" stroke="#000" stroke-width="1.30" stroke-linejoin="round"/>
<polygon points="166.53,590.71 171.34,592.64 175.55,590.10 170.75,588.18" fill="#e4e4e4" stroke="#000" stroke-width="1.30" stroke-linejoin="round"/>
<polygon points="183.00,663.40 187.69,665.47 181.15,545.51 176.10,543.63" fill="url(#np)" stroke="#000" stroke-width="1.30" stroke-linejoin="round"/>
<polygon points="187.69,665.47 191.66,662.80 185.50,543.00 181.15,545.51" fill="url(#npd)" stroke="#000" stroke-width="1.30" stroke-linejoin="round"/>
<polygon points="176.10,543.63 181.15,545.51 185.50,543.00 180.45,541.13" fill="#e4e4e4" stroke="#000" stroke-width="1.30" stroke-linejoin="round"/>
<polygon points="195.24,668.80 200.01,670.90 199.58,661.54 194.78,659.45" fill="url(#np)" stroke="#000" stroke-width="1.30" stroke-linejoin="round"/>
<polygon points="200.01,670.90 203.96,668.19 203.56,658.84 199.58,661.54" fill="url(#npd)" stroke="#000" stroke-width="1.30" stroke-linejoin="round"/>
<polygon points="194.78,659.45 199.58,661.54 203.56,658.84 198.77,656.77" fill="#e4e4e4" stroke="#000" stroke-width="1.30" stroke-linejoin="round"/>
<polygon points="207.70,674.29 212.55,676.43 212.20,667.03 207.31,664.91" fill="url(#np)" stroke="#000" stroke-width="1.30" stroke-linejoin="round"/>
<polygon points="212.55,676.43 216.47,673.68 216.14,664.29 212.20,667.03" fill="url(#npd)" stroke="#000" stroke-width="1.30" stroke-linejoin="round"/>
<polygon points="207.31,664.91 212.20,667.03 216.14,664.29 211.27,662.18" fill="#e4e4e4" stroke="#000" stroke-width="1.30" stroke-linejoin="round"/>
<polygon points="220.37,679.88 225.31,682.06 225.03,672.62 220.06,670.46" fill="url(#np)" stroke="#000" stroke-width="1.30" stroke-linejoin="round"/>
<polygon points="225.31,682.06 229.20,679.26 228.95,669.84 225.03,672.62" fill="url(#npd)" stroke="#000" stroke-width="1.30" stroke-linejoin="round"/>
<polygon points="220.06,670.46 225.03,672.62 228.95,669.84 223.99,667.69" fill="#e4e4e4" stroke="#000" stroke-width="1.30" stroke-linejoin="round"/>
<polygon points="233.27,685.57 238.29,687.78 237.89,668.71 232.80,666.52" fill="url(#np)" stroke="#000" stroke-width="1.30" stroke-linejoin="round"/>
<polygon points="238.29,687.78 242.15,684.95 241.81,665.89 237.89,668.71" fill="url(#npd)" stroke="#000" stroke-width="1.30" stroke-linejoin="round"/>
<polygon points="232.80,666.52 237.89,668.71 241.81,665.89 236.73,663.72" fill="#e4e4e4" stroke="#000" stroke-width="1.30" stroke-linejoin="round"/>
<polygon points="246.39,691.36 251.50,693.61 251.27,674.45 246.09,672.23" fill="url(#np)" stroke="#000" stroke-width="1.30" stroke-linejoin="round"/>
<polygon points="251.50,693.61 255.34,690.73 255.16,671.60 251.27,674.45" fill="url(#npd)" stroke="#000" stroke-width="1.30" stroke-linejoin="round"/>
<polygon points="246.09,672.23 251.27,674.45 255.16,671.60 249.99,669.39" fill="#e4e4e4" stroke="#000" stroke-width="1.30" stroke-linejoin="round"/>
<polygon points="259.75,697.25 264.95,699.54 264.85,670.50 259.54,668.25" fill="url(#np)" stroke="#000" stroke-width="1.30" stroke-linejoin="round"/>
<polygon points="264.95,699.54 268.76,696.62 268.74,667.61 264.85,670.50" fill="url(#npd)" stroke="#000" stroke-width="1.30" stroke-linejoin="round"/>
<polygon points="259.54,668.25 264.85,670.50 268.74,667.61 263.45,665.38" fill="#e4e4e4" stroke="#000" stroke-width="1.30" stroke-linejoin="round"/>
<polygon points="273.35,703.25 278.65,705.58 278.70,695.98 273.36,693.66" fill="url(#np)" stroke="#000" stroke-width="1.30" stroke-linejoin="round"/>
<polygon points="278.65,705.58 282.42,702.61 282.50,693.02 278.70,695.98" fill="url(#npd)" stroke="#000" stroke-width="1.30" stroke-linejoin="round"/>
<polygon points="273.36,693.66 278.70,695.98 282.50,693.02 277.18,690.72" fill="#e4e4e4" stroke="#000" stroke-width="1.30" stroke-linejoin="round"/>
<polygon points="287.20,709.35 292.59,711.73 296.34,708.72 290.95,706.36" fill="#e4e4e4" stroke="#000" stroke-width="1.30" stroke-linejoin="round"/>
<polygon points="301.30,715.57 306.80,718.00 310.51,714.94 305.02,712.53" fill="#e4e4e4" stroke="#000" stroke-width="1.30" stroke-linejoin="round"/>
<polygon points="315.66,721.91 321.26,724.38 321.89,704.78 316.22,702.35" fill="url(#np)" stroke="#000" stroke-width="1.30" stroke-linejoin="round"/>
<polygon points="321.26,724.38 324.95,721.27 325.62,701.70 321.89,704.78" fill="url(#npd)" stroke="#000" stroke-width="1.30" stroke-linejoin="round"/>
<polygon points="316.22,702.35 321.89,704.78 325.62,701.70 319.97,699.28" fill="#e4e4e4" stroke="#000" stroke-width="1.30" stroke-linejoin="round"/>
<polygon points="330.30,728.36 336.00,730.88 336.81,711.19 331.03,708.71" fill="url(#np)" stroke="#000" stroke-width="1.30" stroke-linejoin="round"/>
<polygon points="336.00,730.88 339.65,727.72 340.51,708.06 336.81,711.19" fill="url(#npd)" stroke="#000" stroke-width="1.30" stroke-linejoin="round"/>
<polygon points="331.03,708.71 336.81,711.19 340.51,708.06 334.75,705.60" fill="#e4e4e4" stroke="#000" stroke-width="1.30" stroke-linejoin="round"/>
<polygon points="345.21,734.94 351.02,737.50 354.59,666.08 348.52,663.64" fill="url(#np)" stroke="#000" stroke-width="1.30" stroke-linejoin="round"/>
<polygon points="351.02,737.50 354.64,734.30 358.42,662.97 354.59,666.08" fill="url(#npd)" stroke="#000" stroke-width="1.30" stroke-linejoin="round"/>
<polygon points="348.52,663.64 354.59,666.08 358.42,662.97 352.35,660.55" fill="#e4e4e4" stroke="#000" stroke-width="1.30" stroke-linejoin="round"/>
<polygon points="360.40,741.64 366.33,744.25 366.92,734.38 360.95,731.78" fill="url(#np)" stroke="#000" stroke-width="1.30" stroke-linejoin="round"/>
<polygon points="366.33,744.25 369.91,741.00 370.53,731.13 366.92,734.38" fill="url(#npd)" stroke="#000" stroke-width="1.30" stroke-linejoin="round"/>
<polygon points="360.95,731.78 366.92,734.38 370.53,731.13 364.58,728.56" fill="#e4e4e4" stroke="#000" stroke-width="1.30" stroke-linejoin="round"/>
<polygon points="375.89,748.47 381.93,751.14 389.13,646.11 382.70,643.64" fill="url(#np)" stroke="#000" stroke-width="1.30" stroke-linejoin="round"/>
<polygon points="381.93,751.14 385.48,747.83 392.98,642.94 389.13,646.11" fill="url(#npd)" stroke="#000" stroke-width="1.30" stroke-linejoin="round"/>
<polygon points="382.70,643.64 389.13,646.11 392.98,642.94 386.56,640.50" fill="#e4e4e4" stroke="#000" stroke-width="1.30" stroke-linejoin="round"/>
<polygon points="391.68,755.43 397.84,758.15 401.36,754.79 395.21,752.10" fill="#e4e4e4" stroke="#000" stroke-width="1.30" stroke-linejoin="round"/>
<polygon points="148.65,659.57 153.21,661.61 152.16,648.30 147.56,646.28" fill="#fff" stroke="#000" stroke-width="1.30" stroke-linejoin="round"/>
<polygon points="153.21,661.61 157.23,659.01 156.23,645.72 152.16,648.30" fill="#a8a8a8" stroke="#000" stroke-width="1.30" stroke-linejoin="round"/>
<polygon points="147.56,646.28 152.16,648.30 156.23,645.72 151.64,643.72" fill="#f4f4f4" stroke="#000" stroke-width="1.30" stroke-linejoin="round"/>
<polygon points="160.55,664.89 165.19,666.96 164.72,660.36 160.07,658.29" fill="#fff" stroke="#000" stroke-width="1.30" stroke-linejoin="round"/>
<polygon points="165.19,666.96 169.19,664.33 168.74,657.73 164.72,660.36" fill="#a8a8a8" stroke="#000" stroke-width="1.30" stroke-linejoin="round"/>
<polygon points="160.07,658.29 164.72,660.36 168.74,657.73 164.10,655.69" fill="#f4f4f4" stroke="#000" stroke-width="1.30" stroke-linejoin="round"/>
<polygon points="172.66,670.30 177.37,672.41 181.34,669.74 176.64,667.64" fill="#f4f4f4" stroke="#000" stroke-width="1.30" stroke-linejoin="round"/>
<polygon points="184.97,675.80 189.77,677.95 189.41,671.29 184.59,669.16" fill="#fff" stroke="#000" stroke-width="1.30" stroke-linejoin="round"/>
<polygon points="189.77,677.95 193.71,675.23 193.37,668.59 189.41,671.29" fill="#a8a8a8" stroke="#000" stroke-width="1.30" stroke-linejoin="round"/>
<polygon points="184.59,669.16 189.41,671.29 193.37,668.59 188.56,666.47" fill="#f4f4f4" stroke="#000" stroke-width="1.30" stroke-linejoin="round"/>
<polygon points="197.49,681.40 202.37,683.58 202.07,676.90 197.17,674.73" fill="#fff" stroke="#000" stroke-width="1.30" stroke-linejoin="round"/>
<polygon points="202.37,683.58 206.29,680.83 206.01,674.15 202.07,676.90" fill="#a8a8a8" stroke="#000" stroke-width="1.30" stroke-linejoin="round"/>
<polygon points="197.17,674.73 202.07,676.90 206.01,674.15 201.12,672.00" fill="#f4f4f4" stroke="#000" stroke-width="1.30" stroke-linejoin="round"/>
<polygon points="210.24,687.10 215.20,689.32 214.95,682.60 209.97,680.39" fill="#fff" stroke="#000" stroke-width="1.30" stroke-linejoin="round"/>
<polygon points="215.20,689.32 219.09,686.52 218.86,679.82 214.95,682.60" fill="#a8a8a8" stroke="#000" stroke-width="1.30" stroke-linejoin="round"/>
<polygon points="209.97,680.39 214.95,682.60 218.86,679.82 213.89,677.62" fill="#f4f4f4" stroke="#000" stroke-width="1.30" stroke-linejoin="round"/>
<polygon points="223.21,692.89 228.26,695.15 232.12,692.32 227.08,690.07" fill="#f4f4f4" stroke="#000" stroke-width="1.30" stroke-linejoin="round"/>
<polygon points="236.40,698.79 241.55,701.09 245.38,698.21 240.25,695.93" fill="#f4f4f4" stroke="#000" stroke-width="1.30" stroke-linejoin="round"/>
<polygon points="249.84,704.80 255.07,707.14 254.92,693.38 249.63,691.06" fill="#fff" stroke="#000" stroke-width="1.30" stroke-linejoin="round"/>
<polygon points="255.07,707.14 258.88,704.22 258.76,690.47 254.92,693.38" fill="#a8a8a8" stroke="#000" stroke-width="1.30" stroke-linejoin="round"/>
<polygon points="249.63,691.06 254.92,693.38 258.76,690.47 253.49,688.17" fill="#f4f4f4" stroke="#000" stroke-width="1.30" stroke-linejoin="round"/>
<polygon points="263.51,710.91 268.85,713.30 268.83,706.46 263.47,704.09" fill="#fff" stroke="#000" stroke-width="1.30" stroke-linejoin="round"/>
<polygon points="268.85,713.30 272.62,710.33 272.62,703.50 268.83,706.46" fill="#a8a8a8" stroke="#000" stroke-width="1.30" stroke-linejoin="round"/>
<polygon points="263.47,704.09 268.83,706.46 272.62,703.50 267.28,701.15" fill="#f4f4f4" stroke="#000" stroke-width="1.30" stroke-linejoin="round"/>
<polygon points="277.44,717.14 282.87,719.56 286.61,716.55 281.20,714.14" fill="#f4f4f4" stroke="#000" stroke-width="1.30" stroke-linejoin="round"/>
<polygon points="291.62,723.48 297.15,725.95 297.26,719.06 291.70,716.60" fill="#fff" stroke="#000" stroke-width="1.30" stroke-linejoin="round"/>
<polygon points="297.15,725.95 300.87,722.89 300.99,716.00 297.26,719.06" fill="#a8a8a8" stroke="#000" stroke-width="1.30" stroke-linejoin="round"/>
<polygon points="291.70,716.60 297.26,719.06 300.99,716.00 295.45,713.56" fill="#f4f4f4" stroke="#000" stroke-width="1.30" stroke-linejoin="round"/>
<polygon points="306.07,729.93 311.70,732.45 315.38,729.34 309.76,726.84" fill="#f4f4f4" stroke="#000" stroke-width="1.30" stroke-linejoin="round"/>
<polygon points="320.79,736.51 326.53,739.08 326.76,732.12 320.99,729.57" fill="#fff" stroke="#000" stroke-width="1.30" stroke-linejoin="round"/>
<polygon points="326.53,739.08 330.17,735.92 330.43,728.97 326.76,732.12" fill="#a8a8a8" stroke="#000" stroke-width="1.30" stroke-linejoin="round"/>
<polygon points="320.99,729.57 326.76,732.12 330.43,728.97 324.67,726.44" fill="#f4f4f4" stroke="#000" stroke-width="1.30" stroke-linejoin="round"/>
<polygon points="335.78,743.22 341.63,745.83 342.23,731.69 336.33,729.10" fill="#fff" stroke="#000" stroke-width="1.30" stroke-linejoin="round"/>
<polygon points="341.63,745.83 345.25,742.62 345.88,728.50 342.23,731.69" fill="#a8a8a8" stroke="#000" stroke-width="1.30" stroke-linejoin="round"/>
<polygon points="336.33,729.10 342.23,731.69 345.88,728.50 340.00,725.93" fill="#f4f4f4" stroke="#000" stroke-width="1.30" stroke-linejoin="round"/>
<polygon points="351.06,750.05 357.02,752.71 360.61,749.46 354.66,746.81" fill="#f4f4f4" stroke="#000" stroke-width="1.30" stroke-linejoin="round"/>
<polygon points="366.64,757.01 372.72,759.73 376.27,756.42 370.20,753.72" fill="#f4f4f4" stroke="#000" stroke-width="1.30" stroke-linejoin="round"/>
<polygon points="382.52,764.11 388.72,766.88 392.23,763.52 386.05,760.77" fill="#f4f4f4" stroke="#000" stroke-width="1.30" stroke-linejoin="round"/>
<text transform="translate(147.71 676.65) rotate(-90)" text-anchor="end" class="cl" dy="4.1">MT</text>
<text transform="translate(159.67 682.02) rotate(-90)" text-anchor="end" class="cl" dy="4.1">IT</text>
<text transform="translate(171.83 687.48) rotate(-90)" text-anchor="end" class="cl" dy="4.1">VT</text>
<text transform="translate(184.21 693.03) rotate(-90)" text-anchor="end" class="cl" dy="4.1">P</text>
<text transform="translate(196.80 698.68) rotate(-90)" text-anchor="end" class="cl" dy="4.1">DC</text>
<text transform="translate(209.60 704.43) rotate(-90)" text-anchor="end" class="cl" dy="4.1">VC</text>
<text transform="translate(222.64 710.28) rotate(-90)" text-anchor="end" class="cl" dy="4.1">AI</text>
<text transform="translate(235.90 716.24) rotate(-90)" text-anchor="end" class="cl" dy="4.1">MI</text>
<text transform="translate(249.41 722.30) rotate(-90)" text-anchor="end" class="cl" dy="4.1">B45</text>
<text transform="translate(263.16 728.47) rotate(-90)" text-anchor="end" class="cl" dy="4.1">B47</text>
<text transform="translate(277.16 734.75) rotate(-90)" text-anchor="end" class="cl" dy="4.1">B10</text>
<text transform="translate(291.41 741.15) rotate(-90)" text-anchor="end" class="cl" dy="4.1">B11</text>
<text transform="translate(305.94 747.67) rotate(-90)" text-anchor="end" class="cl" dy="4.1">B6</text>
<text transform="translate(320.73 754.31) rotate(-90)" text-anchor="end" class="cl" dy="4.1">LPM</text>
<text transform="translate(335.81 761.07) rotate(-90)" text-anchor="end" class="cl" dy="4.1">S2</text>
<text transform="translate(351.17 767.97) rotate(-90)" text-anchor="end" class="cl" dy="4.1">M1S1</text>
<text transform="translate(366.83 775.00) rotate(-90)" text-anchor="end" class="cl" dy="4.1">S1M1</text>
<text transform="translate(382.80 782.16) rotate(-90)" text-anchor="end" class="cl" dy="4.1">PGC</text>
<!-- legend B -->
<rect x="224.5" y="552" width="40.4" height="57" fill="#fff" stroke="#999" stroke-width="0.9"/>
<rect x="230.8" y="558.4" width="7.8" height="8" fill="#fff" stroke="#111" stroke-width="1.7"/>
<text x="243.2" y="566.6" class="lg">HC</text>
<rect x="230.8" y="576.6" width="7.8" height="8" fill="url(#np)" stroke="#111" stroke-width="1.7"/>
<text x="243.2" y="584.7" class="lg">NP</text>
<rect x="230.8" y="594.8" width="7.8" height="8" fill="#000" stroke="#000" stroke-width="1.3"/>
<text x="243.2" y="603" class="lg">CP</text>
<text transform="translate(92 593.6) rotate(-90)" text-anchor="middle" class="yt">(#VOI/N)*100</text>
<text transform="translate(212.3 753) rotate(32)" text-anchor="middle" class="voi" dy="5.5">VOI</text>
<text transform="translate(409 782.7) rotate(41)" text-anchor="middle" class="sl" dy="3.3">HC</text>
<text transform="translate(420 772.7) rotate(41)" text-anchor="middle" class="sl" dy="3.3">NP</text>
<text transform="translate(429 762.7) rotate(41)" text-anchor="middle" class="sl" dy="3.3">CP</text>
</svg>
</body></html>
